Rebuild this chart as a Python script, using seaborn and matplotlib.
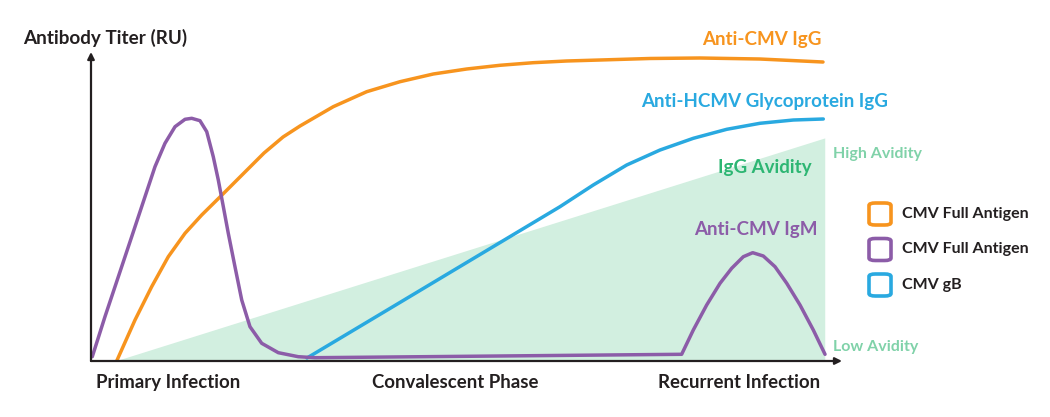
import numpy as np
import pandas as pd
from matplotlib import pyplot as plt
from matplotlib.patches import FancyBboxPatch
import seaborn as sns

# Curve values (time 0-100, titer 0-100, arbitrary units)
igg_time = [3.42, 5.86, 8.08, 10.29, 12.52, 14.74, 17.44, 20.24, 23.04, 25.57, 27.83,
            32.26, 36.71, 41.15, 45.58, 50.03, 54.46, 58.89, 63.34, 67.78, 74.43,
            81.09, 89.08, 97.47]
igg_titer = [0.0, 13.27, 24.05, 33.75, 41.33, 47.25, 53.72, 60.52, 67.31, 72.49, 76.05,
             82.30, 87.15, 90.39, 92.88, 94.50, 95.70, 96.54, 97.09, 97.41, 97.90,
             98.06, 97.73, 96.76]

igm_time = [0.17, 1.86, 3.64, 5.42, 7.19, 8.52, 9.85, 11.19, 12.52, 13.41, 14.51, 15.41,
            16.28, 16.95, 17.62, 18.28, 19.17, 20.07, 21.17, 22.73, 24.94, 27.60, 29.83,
            54.46, 78.65, 80.20, 81.98, 83.76, 85.31, 86.86, 88.11, 89.52, 91.08, 92.64,
            94.41, 96.18, 97.74]
igm_titer = [1.39, 14.34, 27.28, 40.23, 53.17, 62.88, 70.45, 75.83, 78.22, 78.54, 77.77,
             74.21, 66.12, 58.58, 49.94, 41.33, 30.52, 19.74, 11.10, 5.73, 2.69, 1.39,
             1.07, 1.62, 2.17, 10.03, 18.12, 25.15, 30.0, 33.75, 35.05, 33.98, 30.52,
             25.15, 18.12, 10.03, 2.17]

gb_time = [28.76, 34.49, 41.15, 47.80, 54.46, 62.45, 66.88, 71.33, 75.77, 80.20, 84.65,
           89.08, 93.52, 97.51]
gb_titer = [0.97, 9.29, 18.96, 28.64, 38.32, 49.94, 56.96, 63.43, 68.28, 72.07, 74.98,
            76.93, 77.99, 78.32]

avidity_time = [3.2, 97.7]
avidity_level = [0.0, 72.2]

phase_labels = ['Primary Infection', 'Convalescent Phase', 'Recurrent Infection']
phase_pos = [10.3, 48.5, 86.3]

legend_labels = ['CMV Full Antigen', 'CMV Full Antigen', 'CMV gB']

ORANGE = '#F7941E'
PURPLE = '#8C5CA8'
BLUE = '#29A9E0'
GREEN_FILL = '#D2EFE0'
GREEN_TXT = '#2DB673'
GREEN_LIGHT = '#80D2A9'
DARK = '#231F20'

sns.set_style("white")
plt.rcParams['font.family'] = ['Lato', 'DejaVu Sans']
plt.rcParams['font.weight'] = 'bold'

fig = plt.figure(figsize=(10.5, 4.17), dpi=100)
ax = fig.add_axes([91 / 1050, 56 / 417, 751 / 1050, 309 / 417])
ax.set_xlim(0, 100)
ax.set_ylim(0, 100)

# avidity triangle
ax.fill_between(avidity_time, avidity_level, 0, color=GREEN_FILL, lw=0, zorder=1)

line_kw = dict(lw=2.5, solid_joinstyle='round', solid_capstyle='round', ax=ax)
sns.lineplot(x=igg_time, y=igg_titer, color=ORANGE, zorder=3, **line_kw)
sns.lineplot(x=gb_time, y=gb_titer, color=BLUE, zorder=3, **line_kw)
sns.lineplot(x=igm_time, y=igm_titer, color=PURPLE, zorder=4, **line_kw)

for s in ax.spines.values():
    s.set_visible(False)
ax.set_xticks([])
ax.set_yticks([])

# axes with arrows
arrow = dict(arrowstyle='-|>', color=DARK, lw=1.6, mutation_scale=10, shrinkA=0, shrinkB=0)
ax.annotate('', xy=(100, 0), xytext=(0, 0), arrowprops=arrow, annotation_clip=False, zorder=5)
ax.annotate('', xy=(0, 100), xytext=(0, 0), arrowprops=arrow, annotation_clip=False, zorder=5)

ax.text(-9.05, 104.5, 'Antibody Titer (RU)', ha='left', va='center', fontsize=13.6,
        color=DARK, fontweight='bold')

for lab, pos in zip(phase_labels, phase_pos):
    ax.text(pos, -7.1, lab, ha='center', va='center', fontsize=13.4, color=DARK,
            fontweight='bold')

# series annotations
ax.text(97.3, 103.9, 'Anti-CMV IgG', ha='right', va='center', fontsize=13.5,
        color=ORANGE, fontweight='bold')
ax.text(106.1, 84.1, 'Anti-HCMV Glycoprotein IgG', ha='right', va='center', fontsize=13.5,
        color=BLUE, fontweight='bold')
ax.text(96.0, 62.5, 'IgG Avidity', ha='right', va='center', fontsize=13.5,
        color=GREEN_TXT, fontweight='bold')
ax.text(96.8, 42.7, 'Anti-CMV IgM', ha='right', va='center', fontsize=13.5,
        color=PURPLE, fontweight='bold')
ax.text(98.8, 67.0, 'High Avidity', ha='left', va='center', fontsize=11.5,
        color=GREEN_LIGHT, fontweight='bold')
ax.text(98.8, 4.5, 'Low Avidity', ha='left', va='center', fontsize=11.5,
        color=GREEN_LIGHT, fontweight='bold')

# legend: rounded outline boxes
for i, (lab, col) in enumerate(zip(legend_labels, [ORANGE, PURPLE, BLUE])):
    yc = 1 - (214 + 35.5 * i) / 417
    box = FancyBboxPatch((869 / 1050, yc - 11 / 417), 22 / 1050, 22 / 417,
                         boxstyle='round,pad=0,rounding_size=0.006',
                         transform=fig.transFigure, facecolor='white',
                         edgecolor=col, lw=2.6)
    fig.add_artist(box)
    fig.text(902 / 1050, yc, lab, ha='left', va='center', fontsize=11.5,
             color=DARK, fontweight='bold')

fig.savefig('out.png', dpi=100)
